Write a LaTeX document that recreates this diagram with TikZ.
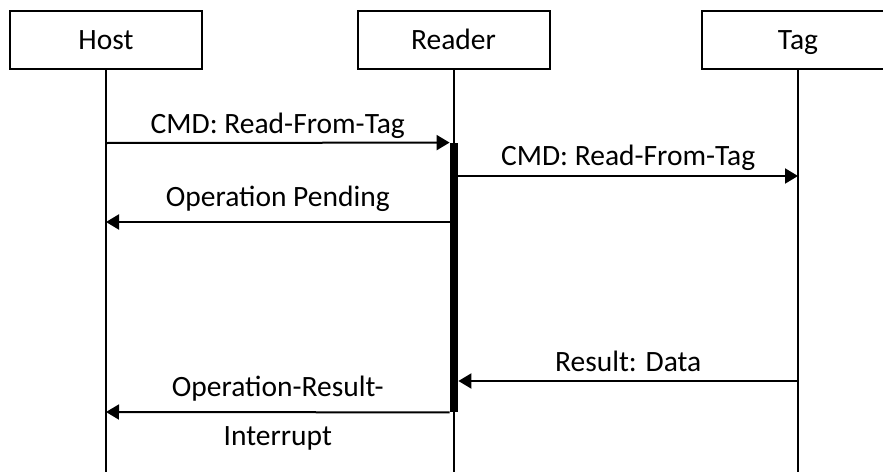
\documentclass[tikz,border=0pt]{standalone}
\usepackage{fontspec}
\setmainfont{Carlito}
\usetikzlibrary{arrows.meta}

\begin{document}
\begin{tikzpicture}[
    x=0.5pt, y=-0.5pt,
    font=\fontsize{14.75}{17.5}\selectfont,
    actor/.style={draw=black, line width=1pt, minimum width=96pt, minimum height=29pt, inner sep=0pt,
      text height=9pt, text depth=0pt},
    life/.style={draw=black, line width=1pt},
    msg/.style={draw=black, line width=1pt, -{Triangle[length=6.5pt, width=7.5pt]}},
    lbl/.style={inner sep=0pt},
    actbar/.style={fill=black, draw=none, minimum width=4pt, minimum height=134.5pt, inner sep=0pt},
  ]
    \clip (0,0) rectangle (883,471);

    % --- actors (Tag box runs past the right edge)
    \node[actor] (host)   at (106,40)   {Host};
    \node[actor] (reader) at (453.5,40) {Reader};
    \node[actor] (tag)    at (798,40)   {Tag};

    % --- lifelines
    \coordinate (hostend)   at (106,472);
    \coordinate (readerend) at (453.5,472);
    \coordinate (tagend)    at (798,472);
    \draw[life] (host.south) -- (hostend);
    \draw[life] (reader.south) -- (readerend);
    \draw[life] (tag.south) -- (tagend);

    % --- activation of the reader
    \node[actbar] (bar) at (454,277.5) {};

    % --- message end points
    \foreach \n/\y in {1/143, 3/222, 5/412} \coordinate (h\n) at (106,\y);
    \foreach \n/\y in {2/176, 4/381} \coordinate (t\n) at (798,\y);
    \coordinate (r2) at (bar.east |- t2);
    \coordinate (r3) at (bar.west |- h3);
    \coordinate (r4) at (bar.east |- t4);

    % --- messages
    \draw[msg] (h1) -- node[lbl, above=1.5pt] {CMD: Read-From-Tag} (bar.north west);
    \draw[msg] (r2) -- node[lbl, above=2pt] {CMD: Read-From-Tag} (t2);
    \draw[msg] (r3) -- node[lbl, above=4.5pt] {Operation Pending} (h3);
    \draw[msg] (t4) -- node[lbl, above=4pt] {Result: Data} (r4);
    \draw[msg] (bar.south west) -- node[lbl, above=5pt] {Operation-Result-}
      node[lbl, below=6.5pt] {Interrupt} (h5);
  \end{tikzpicture}
\end{document}
